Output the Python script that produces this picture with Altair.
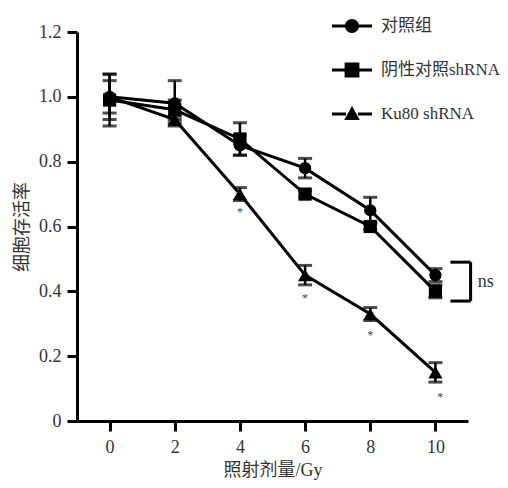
import altair as alt
import pandas as pd

doses = [0, 2, 4, 6, 8, 10]
groups = ["对照组", "阴性对照shRNA", "Ku80 shRNA"]
control = [1.00, 0.98, 0.85, 0.78, 0.65, 0.45]
control_err = [0.07, 0.07, 0.03, 0.03, 0.04, 0.02]
negative = [0.99, 0.96, 0.87, 0.70, 0.60, 0.40]
negative_err = [0.08, 0.03, 0.05, 0.01, 0.01, 0.02]
ku80 = [1.00, 0.93, 0.70, 0.45, 0.33, 0.15]
ku80_err = [0.05, 0.01, 0.02, 0.03, 0.02, 0.03]

star_x = [4, 6, 8, 10.15]
star_y = [0.645, 0.38, 0.265, 0.075]

bracket_x = [10.46, 11.08, 10.46]
bracket_x2 = [11.08, 11.08, 11.08]
bracket_y = [0.49, 0.37, 0.37]
bracket_y2 = [0.49, 0.49, 0.37]

FONT = "Liberation Serif, Noto Sans CJK SC"
TXT = "#333"

rows = []
for g, vals, errs in zip(groups, [control, negative, ku80], [control_err, negative_err, ku80_err]):
    for d, v, e in zip(doses, vals, errs):
        rows.append({"group": g, "dose": d, "value": v, "lo": v - e, "hi": v + e})
df = pd.DataFrame(rows)

stars = pd.DataFrame({"x": star_x, "y": star_y, "t": ["*"] * len(star_x)})
bracket = pd.DataFrame({"x": bracket_x, "x2": bracket_x2, "y": bracket_y, "y2": bracket_y2})
ns = pd.DataFrame({"x": [11.3], "y": [0.43], "t": ["ns"]})

xscale = alt.Scale(domain=[-1, 11], nice=False, zero=False)
yscale = alt.Scale(domain=[0, 1.2], nice=False)

xaxis = alt.Axis(values=doses, title="照射剂量/Gy", grid=False, domainWidth=3, domainColor="black",
                 tickWidth=3, tickSize=10, tickColor="black", labelFontSize=18, labelFont=FONT,
                 labelColor=TXT, labelPadding=7, titleFont=FONT, titleFontSize=18,
                 titleFontWeight="normal", titleColor=TXT, titlePadding=5)
yaxis = alt.Axis(values=[0, 0.2, 0.4, 0.6, 0.8, 1.0, 1.2], title="细胞存活率", grid=False,
                 domainWidth=3, domainColor="black", tickWidth=3, tickSize=10, tickColor="black",
                 labelFontSize=18, labelFont=FONT, labelColor=TXT, labelPadding=6,
                 labelExpr="datum.value == 0 ? '0' : format(datum.value, '.1f')",
                 titleFont=FONT, titleFontSize=18, titleFontWeight="normal", titleColor=TXT,
                 titlePadding=7)

base = alt.Chart(df)

lines = base.mark_line(color="black", strokeWidth=3).encode(
    x=alt.X("dose:Q", scale=xscale, axis=xaxis),
    y=alt.Y("value:Q", scale=yscale, axis=yaxis),
    detail="group:N",
)

err = base.mark_rule(color="black", strokeWidth=2.5).encode(
    x="dose:Q", y="lo:Q", y2="hi:Q"
)
cap_hi = base.mark_tick(color="black", orient="horizontal", size=14, thickness=3).encode(
    x="dose:Q", y="hi:Q"
)
cap_lo = base.mark_tick(color="black", orient="horizontal", size=14, thickness=3).encode(
    x="dose:Q", y="lo:Q"
)

points = base.mark_point(filled=True, color="black", opacity=1).encode(
    x="dose:Q",
    y="value:Q",
    shape=alt.Shape("group:N", scale=alt.Scale(domain=groups, range=["circle", "square", "triangle-up"]), legend=None),
    size=alt.Size("group:N", scale=alt.Scale(domain=groups, range=[150, 200, 260]), legend=None),
)

leg_paths = [
    "M-1,-0.075H-0.34V0.075H-1Z M0.34,-0.075H1V0.075H0.34Z M-0.35,0A0.35,0.35 0 1,1 0.35,0A0.35,0.35 0 1,1 -0.35,0Z",
    "M-1,-0.075H-0.37V0.075H-1Z M0.37,-0.075H1V0.075H0.37Z M-0.37,-0.37H0.37V0.37H-0.37Z",
    "M-1,-0.075H-0.3V0.075H-1Z M0.3,-0.075H1V0.075H0.3Z M0,-0.4L0.39,0.3H-0.39Z",
]

legend_layer = base.mark_point(filled=True, color="black", opacity=1).encode(
    x="dose:Q",
    y="value:Q",
    shape=alt.Shape(
        "group:N",
        scale=alt.Scale(domain=groups, range=leg_paths),
        legend=alt.Legend(
            title=None, orient="none", legendX=255, legendY=-26, symbolSize=1600,
            symbolStrokeWidth=0, symbolFillColor="black", labelFont=FONT, labelFontSize=17,
            labelColor=TXT, labelOffset=9, rowPadding=16, padding=0, labelLimit=300,
        ),
    ),
).transform_filter("false")

star_text = alt.Chart(stars).mark_text(fontSize=12, color="#444", font=FONT, baseline="middle").encode(
    x="x:Q", y="y:Q", text="t:N"
)

bracket_rules = alt.Chart(bracket).mark_rule(color="black", strokeWidth=3, clip=False).encode(
    x="x:Q", x2="x2:Q", y="y:Q", y2="y2:Q"
)

ns_text = alt.Chart(ns).mark_text(fontSize=18, color=TXT, font=FONT, align="left", baseline="middle", clip=False).encode(
    x="x:Q", y="y:Q", text="t:N"
)

chart = alt.layer(
    lines, err, cap_hi, cap_lo, points, legend_layer, star_text, bracket_rules, ns_text
).resolve_scale(shape="independent", size="independent").properties(
    width=391, height=389,
    autosize=alt.AutoSizeParams(type="none"),
    padding={"left": 69, "top": 24, "right": 32, "bottom": 59},
    background="white",
).configure_view(stroke=None)

chart.save("out.html", embed_options={"renderer": "svg", "actions": False})
